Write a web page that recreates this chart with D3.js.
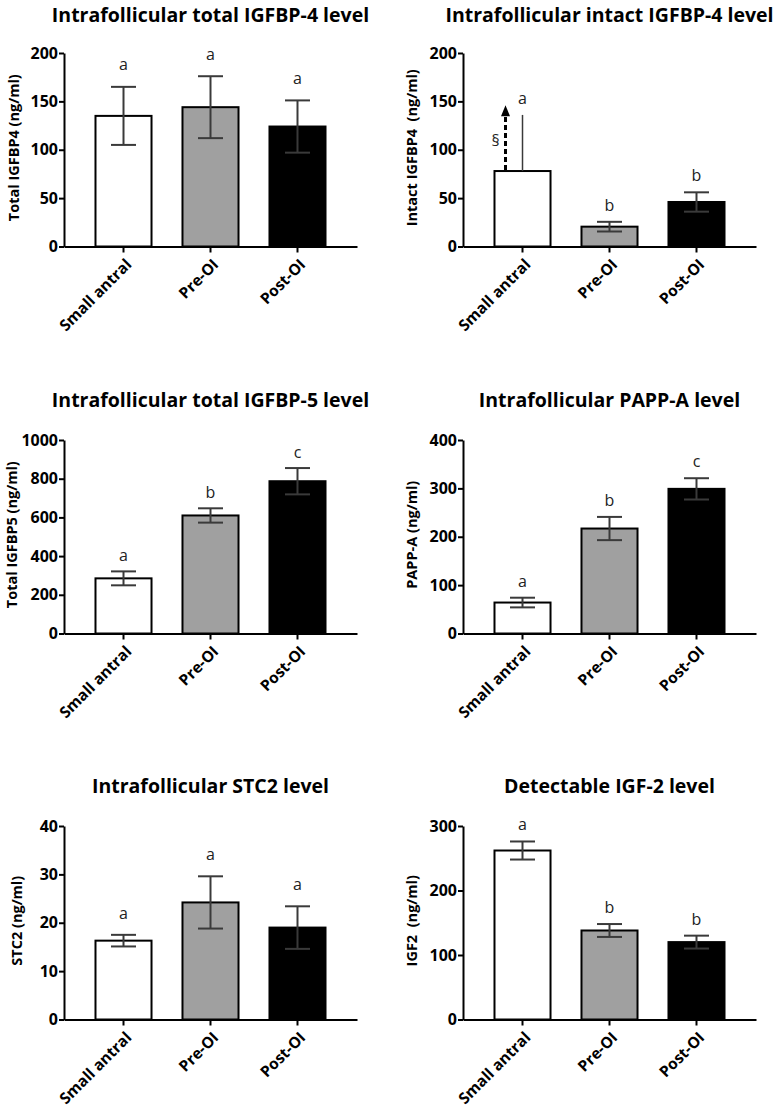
<!DOCTYPE html>
<html>
<head>
<meta charset="utf-8">
<script src="https://cdn.jsdelivr.net/npm/d3@7"></script>
<style>
  html, body { margin: 0; padding: 0; background: #fff; }
  svg { display: block; }
  text { font-family: "Open Sans", Lato, sans-serif; }
</style>
</head>
<body>
<svg id="chart" width="777" height="1110"></svg>
<script>
// ---------- data ----------
const categories = ["Small antral", "Pre-OI", "Post-OI"];

const titles = [
  "Intrafollicular total IGFBP-4 level",
  "Intrafollicular intact IGFBP-4 level",
  "Intrafollicular total IGFBP-5 level",
  "Intrafollicular PAPP-A level",
  "Intrafollicular STC2 level",
  "Detectable IGF-2 level"
];

const yLabels = [
  "Total IGFBP4 (ng/ml)",
  "Intact IGFBP4  (ng/ml)",
  "Total IGFBP5 (ng/ml)",
  "PAPP-A (ng/ml)",
  "STC2 (ng/ml)",
  "IGF2  (ng/ml)"
];

const totalIGFBP4Mean = [135, 144, 124];
const totalIGFBP4Err  = [30, 32, 27];
const intactIGFBP4Mean = [78, 20.5, 46];
const intactIGFBP4Err  = [58, 5, 10];
const totalIGFBP5Mean = [285, 610, 787];
const totalIGFBP5Err  = [36, 37, 68];
const pappAMean = [64, 217, 299];
const pappAErr  = [10, 24, 22];
const stc2Mean = [16.3, 24.2, 19];
const stc2Err  = [1.2, 5.4, 4.4];
const igf2Mean = [262, 138, 120];
const igf2Err  = [14, 10, 10];

const letters = [
  ["a", "a", "a"],
  ["a", "b", "b"],
  ["a", "b", "c"],
  ["a", "b", "c"],
  ["a", "a", "a"],
  ["a", "b", "b"]
];

const yTicks = [
  [0, 50, 100, 150, 200],
  [0, 50, 100, 150, 200],
  [0, 200, 400, 600, 800, 1000],
  [0, 100, 200, 300, 400],
  [0, 10, 20, 30, 40],
  [0, 100, 200, 300]
];

// the "§" arrow in the intact IGFBP-4 panel: from the bar top up to this value
const arrowTipValue = 146;

// ---------- layout ----------
const fills = ["#ffffff", "#a0a0a0", "#000000"];
const means = [totalIGFBP4Mean, intactIGFBP4Mean, totalIGFBP5Mean, pappAMean, stc2Mean, igf2Mean];
const errs  = [totalIGFBP4Err, intactIGFBP4Err, totalIGFBP5Err, pappAErr, stc2Err, igf2Err];

const colX = [64, 463];
const rowTop = [53, 440, 826];
const titleY = [21.5, 406.5, 793];
const plotW = 293, plotH = 193.5;
const ylabOffset = [45, 46, 47, 46, 42, 46];
const letterGap = [16.5, 11, 10.5, 11, 16, 11];

const svg = d3.select("#chart");
svg.append("rect").attr("width", 777).attr("height", 1110).attr("fill", "#fff");

for (let p = 0; p < 6; p++) {
  const col = p % 2, row = Math.floor(p / 2);
  const g = svg.append("g").attr("transform", `translate(${colX[col]},${rowTop[row]})`);
  const tk = yTicks[p];
  const y = d3.scaleLinear().domain([0, tk[tk.length - 1]]).range([plotH, 0]);
  const x = d3.scaleBand().domain(categories).range([0, plotW]).paddingInner(0.356).paddingOuter(0.362);
  const bw = x.bandwidth();

  const rows = categories.map((c, i) => ({ c, i, m: means[p][i], e: errs[p][i], l: letters[p][i] }));

  // title
  g.append("text")
    .attr("x", plotW / 2).attr("y", titleY[row] - rowTop[row])
    .attr("text-anchor", "middle")
    .attr("font-weight", 700).attr("font-size", 19.5).attr("fill", "#000")
    .text(titles[p]);

  // y label
  g.append("text")
    .attr("transform", `translate(${-ylabOffset[p]},${plotH / 2 - 2}) rotate(-90)`)
    .attr("text-anchor", "middle")
    .attr("font-weight", 700).attr("font-size", 14.5).attr("fill", "#000")
    .style("white-space", "pre")
    .text(yLabels[p]);

  // bars
  g.selectAll("rect.bar").data(rows).enter().append("rect")
    .attr("class", "bar")
    .attr("x", d => x(d.c)).attr("width", bw)
    .attr("y", d => y(d.m)).attr("height", d => plotH - y(d.m))
    .attr("fill", d => fills[d.i]).attr("stroke", "#000").attr("stroke-width", 2);

  // error bars
  const capW = 25;
  rows.forEach(d => {
    const cx = x(d.c) + bw / 2;
    const eg = g.append("g").attr("stroke", "#3a3a3a").attr("fill", "none");
    if (p === 1 && d.i === 0) {
      eg.append("line").attr("x1", cx).attr("x2", cx)
        .attr("y1", y(d.m)).attr("y2", y(d.m + d.e)).attr("stroke-width", 1.5);
      const ax = cx - 17;
      g.append("line").attr("x1", ax).attr("x2", ax)
        .attr("y1", y(d.m) - 1).attr("y2", y(arrowTipValue) + 10)
        .attr("stroke", "#000").attr("stroke-width", 3).attr("stroke-dasharray", "5,3");
      const tipY = y(arrowTipValue);
      g.append("path")
        .attr("d", `M${ax},${tipY} L${ax - 4.5},${tipY + 11} L${ax + 4.5},${tipY + 11} Z`)
        .attr("fill", "#000");
      g.append("text").attr("x", ax - 10).attr("y", y(arrowTipValue) + 41)
        .attr("text-anchor", "middle").attr("font-size", 16).attr("fill", "#222").text("§");
    } else {
      eg.append("line").attr("x1", cx).attr("x2", cx)
        .attr("y1", y(d.m - d.e)).attr("y2", y(d.m + d.e)).attr("stroke-width", 2);
      eg.append("line").attr("x1", cx - capW / 2).attr("x2", cx + capW / 2)
        .attr("y1", y(d.m + d.e)).attr("y2", y(d.m + d.e)).attr("stroke-width", 2);
      eg.append("line").attr("x1", cx - capW / 2).attr("x2", cx + capW / 2)
        .attr("y1", y(d.m - d.e)).attr("y2", y(d.m - d.e)).attr("stroke-width", 2);
    }
    g.append("text").attr("x", cx).attr("y", y(d.m + d.e) - letterGap[p])
      .attr("text-anchor", "middle").attr("font-size", 16).attr("fill", "#222")
      .text(d.l);
  });

  // y axis
  const ya = g.append("g").call(d3.axisLeft(y).tickValues(tk).tickFormat(d3.format("d"))
    .tickSize(5).tickSizeOuter(0).tickPadding(1));
  ya.select(".domain").attr("stroke", "#000").attr("stroke-width", 2);
  ya.selectAll(".tick line").attr("stroke", "#000").attr("stroke-width", 2);
  ya.selectAll(".tick text").attr("font-family", "'Open Sans', sans-serif").attr("font-weight", 700)
    .attr("font-size", 16).attr("fill", "#000");

  // x axis
  const xa = g.append("g").attr("transform", `translate(0,${plotH})`)
    .call(d3.axisBottom(x).tickSize(6).tickSizeOuter(0));
  xa.select(".domain").attr("stroke", "#000").attr("stroke-width", 2);
  xa.selectAll(".tick line").attr("stroke", "#000").attr("stroke-width", 2);
  xa.selectAll(".tick text")
    .attr("font-family", "'Open Sans', sans-serif").attr("font-weight", 700).attr("font-size", 15.5).attr("fill", "#000")
    .attr("text-anchor", "end")
    .attr("dy", 0).attr("y", 0)
    .attr("transform", "translate(9,19) rotate(-45)");
}
</script>
</body>
</html>
